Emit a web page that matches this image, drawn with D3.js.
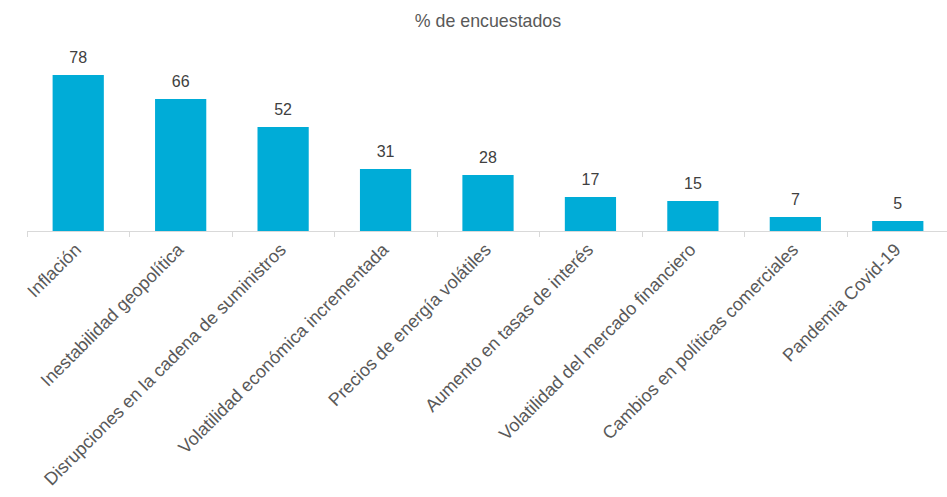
<!DOCTYPE html>
<html>
<head>
<meta charset="utf-8">
<script src="https://cdn.jsdelivr.net/npm/d3@7"></script>
<style>
  html, body { margin: 0; padding: 0; background: #ffffff; }
  svg { display: block; }
</style>
</head>
<body>
<svg id="chart" width="947" height="497"></svg>
<script>
const categories = [
  "Inflación",
  "Inestabilidad geopolítica",
  "Disrupciones en la cadena de suministros",
  "Volatilidad económica incrementada",
  "Precios de energía volátiles",
  "Aumento en tasas de interés",
  "Volatilidad del mercado financiero",
  "Cambios en políticas comerciales",
  "Pandemia Covid-19"
];
const values = [78, 66, 52, 31, 28, 17, 15, 7, 5];
const title = "% de encuestados";

const svg = d3.select("#chart");
const W = 947, H = 497;
const margin = { left: 27, right: -2, top: 0 };
const baseY = 231;

const x = d3.scaleBand()
  .domain(categories)
  .range([margin.left, W - margin.right])
  .paddingInner(0.5)
  .paddingOuter(0.25);

const y = d3.scaleLinear().domain([0, 78]).range([baseY, 75]);

const font = "'Liberation Sans', Arial, sans-serif";

// Title
svg.append("text")
  .attr("x", 488)
  .attr("y", 27)
  .attr("text-anchor", "middle")
  .attr("font-family", font)
  .attr("font-size", 17.8)
  .attr("fill", "#595959")
  .text(title);

// Bars
svg.append("g").selectAll("rect")
  .data(values)
  .join("rect")
  .attr("x", (d, i) => x(categories[i]))
  .attr("width", x.bandwidth())
  .attr("y", d => y(d))
  .attr("height", d => baseY - y(d))
  .attr("fill", "#00acd7");

// Value labels
svg.append("g").selectAll("text")
  .data(values)
  .join("text")
  .attr("x", (d, i) => x(categories[i]) + x.bandwidth() / 2)
  .attr("y", d => y(d) - 12)
  .attr("text-anchor", "middle")
  .attr("font-family", font)
  .attr("font-size", 16)
  .attr("fill", "#404040")
  .text(d => d);

// Category axis with boundary ticks
const step = x.step();
const axisG = svg.append("g");
axisG.append("line")
  .attr("x1", margin.left).attr("x2", W)
  .attr("y1", baseY + 0.5).attr("y2", baseY + 0.5)
  .attr("stroke", "#d9d9d9").attr("stroke-width", 1);
axisG.selectAll("line.tick")
  .data(d3.range(categories.length + 1))
  .join("line")
  .attr("class", "tick")
  .attr("x1", i => Math.round(margin.left + i * step) + 0.5)
  .attr("x2", i => Math.round(margin.left + i * step) + 0.5)
  .attr("y1", baseY)
  .attr("y2", baseY + 6)
  .attr("stroke", "#d9d9d9");

// Rotated category labels
axisG.selectAll("text")
  .data(categories)
  .join("text")
  .attr("transform", d => `translate(${x(d) + x.bandwidth() / 2 + 4},${baseY + 20}) rotate(-45)`)
  .attr("text-anchor", "end")
  .attr("font-family", font)
  .attr("font-size", 18)
  .attr("fill", "#595959")
  .text(d => d);
</script>
</body>
</html>
